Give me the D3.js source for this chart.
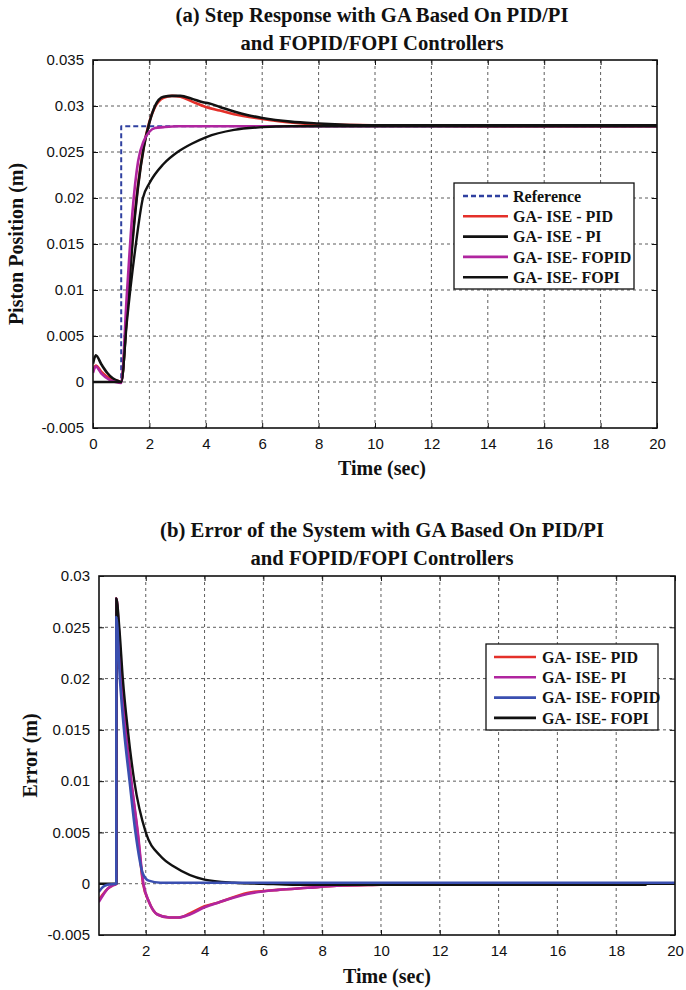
<!DOCTYPE html>
<html>
<head>
<meta charset="utf-8">
<script src="https://cdn.jsdelivr.net/npm/d3@7"></script>
<style>
    body { margin: 0; background: #fff; }
    svg { display: block; }
    .tick text { font-family: 'Liberation Sans', Arial, sans-serif; font-size: 15px; fill: #111; }
    .tick line { stroke: #111; }
    .title, .axis-title, .legend-text { font-family: 'Liberation Serif', 'Times New Roman', serif; font-weight: bold; fill: #111; }
    .grid line { stroke: #333; stroke-width: 0.8; stroke-dasharray: 3,3; }
</style>
</head>
<body>
<svg id="chart"></svg>
<script>

// ---- (a) step response ----
const timeTicksA = [0, 2, 4, 6, 8, 10, 12, 14, 16, 18, 20]
const posTicks = [-0.005, 0, 0.005, 0.01, 0.015, 0.02, 0.025, 0.03, 0.035]

const refT = [0, 1, 1, 20]
const refV = [0, 0, 0.0278, 0.0278]

const pidT = [0, 0.1, 0.3, 0.6, 0.9, 1.0, 1.2, 1.4, 1.6, 1.8, 2.0, 2.2, 2.5, 2.8, 3.1, 3.5, 4.0, 4.5, 5.0, 6.0, 7.0, 8.0, 10, 14, 20]
const pidV = [0.0012, 0.0018, 0.0011, 0.0004, 0.0001, 0, 0.0075, 0.0155, 0.0215, 0.0256, 0.0283, 0.0299, 0.0309, 0.0311, 0.031, 0.0305, 0.0299, 0.0295, 0.0291, 0.0286, 0.0282, 0.028, 0.0279, 0.0278, 0.0278]

const piT = [0, 0.1, 0.3, 0.5, 0.7, 0.9, 1.0, 1.2, 1.4, 1.6, 1.8, 2.0, 2.2, 2.5, 2.8, 3.1, 3.5, 3.9, 4.1, 4.5, 5.0, 5.5, 6.0, 7.0, 8.0, 10, 14, 20]
const piV = [0.002, 0.0029, 0.0019, 0.001, 0.0004, 0.0001, 0, 0.0072, 0.0152, 0.0213, 0.0255, 0.0282, 0.03, 0.031, 0.0311, 0.0311, 0.0308, 0.0304, 0.0303, 0.0299, 0.0294, 0.029, 0.0287, 0.0283, 0.0281, 0.0279, 0.0279, 0.0279]

const fopidT = [0, 0.1, 0.3, 0.6, 0.8, 1.0, 1.2, 1.4, 1.6, 1.8, 2.0, 2.2, 2.5, 3.0, 20]
const fopidV = [0.001, 0.0017, 0.0009, 0.0002, 0, -0.0001, 0.0095, 0.0185, 0.024, 0.0262, 0.0272, 0.0276, 0.0277, 0.0278, 0.0278]

const fopiT = [0, 1.0, 1.2, 1.5, 1.77, 2.0, 2.5, 3.0, 3.5, 4.0, 5.0, 6.0, 7.0, 20]
const fopiV = [0, 0, 0.0065, 0.0145, 0.02, 0.0216, 0.0237, 0.025, 0.0259, 0.0266, 0.0274, 0.0277, 0.0278, 0.0278]

// ---- (b) error ----
const timeTicksB = [2, 4, 6, 8, 10, 12, 14, 16, 18, 20]
const errTicks = [-0.005, 0, 0.005, 0.01, 0.015, 0.02, 0.025, 0.03]

const errPidT = [0.4, 0.55, 0.7, 0.85, 0.999, 1.0, 1.07, 1.16, 1.31, 1.5, 1.72, 1.91, 2.1, 2.4, 2.8, 3.1, 3.5, 4.0, 4.5, 5.45, 6.5, 7.5, 8.5, 10, 12, 20]
const errPidV = [-0.0016, -0.001, -0.0005, -0.0002, 0, 0.0278, 0.025, 0.02, 0.015, 0.01, 0.005, 0, -0.0017, -0.003, -0.0033, -0.0033, -0.0029, -0.0022, -0.0018, -0.0009, -0.0006, -0.0004, -0.0002, -0.0001, 0, 0]

const errPiT = [0.4, 0.55, 0.7, 0.85, 0.999, 1.0, 1.08, 1.17, 1.32, 1.51, 1.73, 1.92, 2.1, 2.4, 2.8, 3.1, 3.5, 4.0, 4.5, 5.45, 6.5, 7.5, 8.5, 10, 12, 20]
const errPiV = [-0.0018, -0.0011, -0.0005, -0.0002, 0, 0.0278, 0.025, 0.02, 0.015, 0.01, 0.005, 0, -0.0017, -0.003, -0.0033, -0.0033, -0.003, -0.0023, -0.0018, -0.001, -0.0006, -0.0004, -0.0002, -0.0001, 0, 0]

const errFopidT = [0.4, 0.55, 0.7, 0.999, 1.0, 1.12, 1.26, 1.45, 1.65, 1.9, 2.1, 2.5, 3.0, 20]
const errFopidV = [-0.0008, -0.0003, -0.0001, 0, 0.026, 0.02, 0.015, 0.01, 0.005, 0.001, 0.0003, 0.0001, 0.0001, 0.0001]

const errFopiT = [0.4, 0.999, 1.0, 1.1, 1.22, 1.39, 1.61, 2.0, 2.5, 3.0, 4.0, 5.0, 6.0, 7.0, 19, 19.05, 20]
const errFopiV = [0, 0, 0.0278, 0.025, 0.02, 0.015, 0.01, 0.005, 0.0027, 0.0016, 0.0004, 0.0001, 0, -0.0001, -0.0001, 0, 0]

const RED = '#e4302a', BLACK = '#111', MAGENTA = '#b0259f', BLUE = '#3a4fb0'

const zip = (t, v) => t.map((d, i) => [d, v[i]])

class ResponsePlot {

    constructor(_config, _series) {
        this.config = _config
        this.series = _series
        this.initVis()
        this.renderVis()
    }

    initVis() {
        let vis = this
        let c = vis.config

        vis.xScale = d3.scaleLinear()
            .domain(c.xDomain)
            .range([0, c.width])

        vis.yScale = d3.scaleLinear()
            .domain(c.yDomain)
            .range([c.height, 0])

        vis.svg = d3.select(c.parentElement)

        vis.chart = vis.svg.append('g')
            .attr('transform', `translate(${c.left},${c.top})`)

        vis.chart.append('clipPath')
            .attr('id', c.id + '-clip')
            .append('rect')
            .attr('width', c.width)
            .attr('height', c.height)

        // dashed grid (skip lines sitting on the box)
        let grid = vis.chart.append('g').attr('class', 'grid')
        grid.selectAll('.gx')
            .data(c.xTicks.filter(d => d > c.xDomain[0] && d < c.xDomain[1]))
            .join('line')
                .attr('x1', d => vis.xScale(d)).attr('x2', d => vis.xScale(d))
                .attr('y1', 0).attr('y2', c.height)
        grid.selectAll('.gy')
            .data(c.yTicks.filter(d => d > c.yDomain[0] && d < c.yDomain[1]))
            .join('line')
                .attr('y1', d => vis.yScale(d)).attr('y2', d => vis.yScale(d))
                .attr('x1', 0).attr('x2', c.width)

        const fmt = d => String(+d.toFixed(4))

        vis.xAxis = d3.axisBottom(vis.xScale).tickValues(c.xTicks)
            .tickSize(-5).tickSizeOuter(0).tickPadding(10).tickFormat(fmt)
        vis.yAxis = d3.axisLeft(vis.yScale).tickValues(c.yTicks)
            .tickSize(-5).tickSizeOuter(0).tickPadding(9).tickFormat(fmt)

        vis.xAxisG = vis.chart.append('g')
            .attr('transform', `translate(0,${c.height})`)
        vis.yAxisG = vis.chart.append('g')

        vis.chart.append('g')
            .call(d3.axisTop(vis.xScale).tickValues(c.xTicks).tickSize(-5).tickSizeOuter(0).tickFormat(''))
            .call(g => g.select('.domain').remove())
        vis.chart.append('g')
            .attr('transform', `translate(${c.width},0)`)
            .call(d3.axisRight(vis.yScale).tickValues(c.yTicks).tickSize(-5).tickSizeOuter(0).tickFormat(''))
            .call(g => g.select('.domain').remove())

        vis.lines = vis.chart.append('g')
            .attr('clip-path', `url(#${c.id}-clip)`)

        vis.chart.append('rect')
            .attr('width', c.width)
            .attr('height', c.height)
            .attr('fill', 'none')
            .attr('stroke', '#111')
            .attr('stroke-width', 1.6)

        // titles
        c.titleLines.forEach((t, i) => {
            vis.svg.append('text')
                .attr('class', 'title')
                .attr('x', c.titleX)
                .attr('y', c.titleY[i])
                .attr('dy', '0.35em')
                .attr('text-anchor', 'middle')
                .attr('font-size', 20)
                .attr('textLength', c.titleWidth[i])
                .attr('lengthAdjust', 'spacingAndGlyphs')
                .text(t)
        })

        vis.svg.append('text')
            .attr('class', 'axis-title')
            .attr('x', c.xTitleX)
            .attr('y', c.xTitleY)
            .attr('dy', '0.35em')
            .attr('text-anchor', 'middle')
            .attr('font-size', 20)
            .text(c.xTitle)

        vis.svg.append('text')
            .attr('class', 'axis-title')
            .attr('transform', `translate(${c.yTitleX},${c.top + c.height / 2}) rotate(-90)`)
            .attr('dy', '0.35em')
            .attr('text-anchor', 'middle')
            .attr('font-size', 20)
            .text(c.yTitle)
    }

    renderVis() {
        let vis = this
        let c = vis.config

        vis.lineGen = d3.line()
            .x(d => vis.xScale(d[0]))
            .y(d => vis.yScale(d[1]))

        vis.lines.selectAll('.curve')
            .data(vis.series)
            .join('path')
                .attr('class', 'curve')
                .attr('fill', 'none')
                .attr('stroke', d => d.color)
                .attr('stroke-width', d => d.width)
                .attr('stroke-dasharray', d => d.dash || null)
                .attr('stroke-linejoin', 'round')
                .attr('d', d => vis.lineGen.curve(d.smooth ? d3.curveMonotoneX : d3.curveLinear)(zip(d.t, d.v)))

        vis.xAxisG.call(vis.xAxis).call(g => g.select('.domain').remove())
        vis.yAxisG.call(vis.yAxis).call(g => g.select('.domain').remove())

        // legend
        let L = c.legend
        let lg = vis.svg.append('g')
        lg.append('rect')
            .attr('x', L.x).attr('y', L.y)
            .attr('width', L.w).attr('height', L.h)
            .attr('fill', '#fff')
            .attr('stroke', '#111')
            .attr('stroke-width', 1.3)
        let rows = lg.selectAll('.row')
            .data(L.order.map(i => vis.series[i]))
            .join('g')
                .attr('transform', (d, i) => `translate(0,${L.row0 + i * L.step})`)
        rows.append('line')
            .attr('x1', L.lineX0).attr('x2', L.lineX1)
            .attr('stroke', d => d.color)
            .attr('stroke-width', 2.6)
            .attr('stroke-dasharray', d => d.dash || null)
        rows.append('text')
            .attr('class', 'legend-text')
            .attr('x', L.textX)
            .attr('dy', '0.35em')
            .attr('font-size', 16)
            .text(d => d.name)
    }
}

d3.select('#chart').attr('width', 686).attr('height', 990)

new ResponsePlot({
    parentElement: '#chart', id: 'a',
    left: 93, top: 60, width: 564, height: 368,
    xDomain: [0, 20], yDomain: [-0.005, 0.035],
    xTicks: timeTicksA, yTicks: posTicks,
    titleLines: ['(a) Step Response with GA Based On PID/PI', 'and FOPID/FOPI Controllers'],
    titleX: 372, titleY: [15, 43], titleWidth: [393, 263],
    xTitle: 'Time (sec)', xTitleX: 382, xTitleY: 468,
    yTitle: 'Piston Position (m)', yTitleX: 16,
    legend: { x: 454, y: 183, w: 180, h: 106, row0: 196, step: 20.3, lineX0: 463, lineX1: 508, textX: 513, order: [0, 1, 2, 3, 4] }
}, [
    { name: 'Reference', t: refT, v: refV, color: '#2f40a0', width: 2, dash: '5,3' },
    { name: 'GA- ISE - PID', t: pidT, v: pidV, color: RED, width: 2.6, smooth: true },
    { name: 'GA- ISE - PI', t: piT, v: piV, color: BLACK, width: 2.6, smooth: true },
    { name: 'GA- ISE- FOPID', t: fopidT, v: fopidV, color: MAGENTA, width: 2.6, smooth: true },
    { name: 'GA- ISE- FOPI', t: fopiT, v: fopiV, color: BLACK, width: 2.4, smooth: true }
])

new ResponsePlot({
    parentElement: '#chart', id: 'b',
    left: 99, top: 576, width: 576, height: 359,
    xDomain: [0.41, 20], yDomain: [-0.005, 0.03],
    xTicks: timeTicksB, yTicks: errTicks,
    titleLines: ['(b) Error of the System with GA Based On PID/PI', 'and FOPID/FOPI Controllers'],
    titleX: 382, titleY: [530, 558], titleWidth: [444, 263],
    xTitle: 'Time (sec)', xTitleX: 387, xTitleY: 976,
    yTitle: 'Error (m)', yTitleX: 30,
    legend: { x: 486, y: 644, w: 172, h: 86, row0: 657, step: 20.3, lineX0: 494, lineX1: 536, textX: 542, order: [0, 1, 3, 2] }
}, [
    { name: 'GA- ISE- PID', t: errPidT, v: errPidV, color: RED, width: 2.6, smooth: true },
    { name: 'GA- ISE- PI', t: errPiT, v: errPiV, color: MAGENTA, width: 2.6, smooth: true },
    { name: 'GA- ISE- FOPI', t: errFopiT, v: errFopiV, color: BLACK, width: 2.4, smooth: true },
    { name: 'GA- ISE- FOPID', t: errFopidT, v: errFopidV, color: BLUE, width: 2.6, smooth: true }
])

</script>
</body>
</html>
